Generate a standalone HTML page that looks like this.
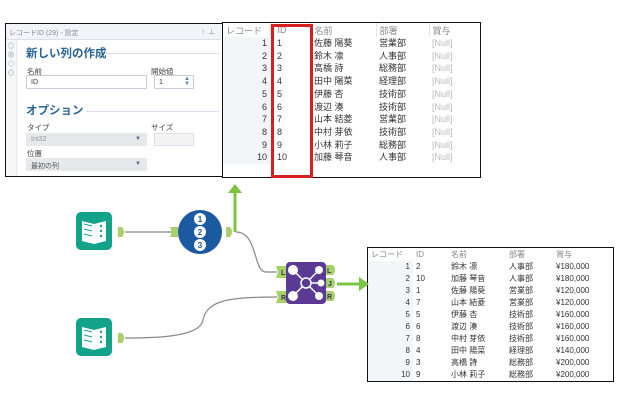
<!DOCTYPE html>
<html><head><meta charset="utf-8"><style>
*{margin:0;padding:0;box-sizing:border-box}
body{width:626px;height:401px;background:#fff;position:relative;overflow:hidden;font-family:"Liberation Sans","Noto Sans CJK JP",sans-serif;}
.abs{position:absolute}
table{border-collapse:collapse;font-size:9px;color:#333}
td{white-space:nowrap;padding:0 3px}
.t1 td:nth-child(2){padding-left:7px}
</style></head><body>

<!-- settings panel -->
<div class="abs" style="left:5px;top:23px;width:218px;height:154px;border:1.5px solid #111;background:#fff">
 <div class="abs" style="left:0;top:0;width:215px;height:16px;background:#f2f4f7;border-bottom:1px solid #dde;font-size:7px;color:#889;padding:4px 3px">レコードID (29) - 設定<span style="position:absolute;right:6px;top:3px">⁝ &nbsp;⊥</span></div>
 <div class="abs" style="left:0;top:16px;width:11px;height:136px;background:#f5f6f8;border-right:1px solid #e3e6ea;font-size:7px;color:#8aa;line-height:9px;text-align:center;padding-top:2px">◎<br>⊗<br>◇<br>⊙</div>
 <div class="abs" style="left:20px;top:21px;font-size:11.5px;color:#2a6496;font-weight:bold">新しい列の作成</div>
 <div class="abs" style="left:100px;top:29px;width:113px;height:1px;background:#dde"></div>
 <div class="abs" style="left:21px;top:42px;font-size:7.5px;color:#444">名前</div>
 <div class="abs" style="left:145px;top:42px;font-size:7.5px;color:#444">開始値</div>
 <div class="abs" style="left:20px;top:51px;width:121px;height:14px;border:1px solid #ccd;font-size:7px;padding:3px 4px;color:#333">ID</div>
 <div class="abs" style="left:148px;top:51px;width:40px;height:14px;border:1px solid #ccd;font-size:7px;padding:3px 4px;color:#333">1<span style="position:absolute;right:3px;top:1px;color:#4a8ac0;font-size:6px;line-height:5px">▲<br>▼</span></div>
 <div class="abs" style="left:20px;top:78px;font-size:11.5px;color:#2a6496;font-weight:bold">オプション</div>
 <div class="abs" style="left:80px;top:87px;width:133px;height:1px;background:#dde"></div>
 <div class="abs" style="left:21px;top:98px;font-size:7.5px;color:#444">タイプ</div>
 <div class="abs" style="left:145px;top:98px;font-size:7.5px;color:#444">サイズ</div>
 <div class="abs" style="left:20px;top:109px;width:121px;height:13px;background:#e6e8eb;font-size:7px;padding:3px 5px;color:#999">Int32<span style="position:absolute;right:6px;top:3px;color:#4a6b8a;font-size:6px">▼</span></div>
 <div class="abs" style="left:148px;top:109px;width:40px;height:13px;border:1px solid #dde;background:#f4f4f4"></div>
 <div class="abs" style="left:21px;top:124px;font-size:7.5px;color:#444">位置</div>
 <div class="abs" style="left:20px;top:134px;width:121px;height:13px;background:#e6e8eb;font-size:7px;padding:3px 5px;color:#555">最初の列<span style="position:absolute;right:6px;top:3px;color:#4a6b8a;font-size:6px">▼</span></div>
</div>

<!-- top table -->
<div class="abs" style="left:222px;top:22px;width:259px;height:156px;border:1.5px solid #111;background:#fff">
<table class="t1" style="width:256px;table-layout:fixed">
<colgroup><col style="width:47px"><col style="width:41px"><col style="width:65px"><col style="width:53px"><col></colgroup>
<tr style="height:14px;color:#888"><td style="border-right:1px solid #e3e3e3">レコード</td><td>ID</td><td style="border-left:1px solid #e3e3e3">名前</td><td style="border-left:1px solid #e3e3e3">部署</td><td style="border-left:1px solid #e3e3e3">賞与</td></tr>
<tbody style="line-height:12.7px">
<tr><td style="text-align:right;background:#f3f5f8">1</td><td>1</td><td>佐藤 陽葵</td><td>営業部</td><td style="color:#bbb">[Null]</td></tr>
<tr><td style="text-align:right;background:#f3f5f8">2</td><td>2</td><td>鈴木 凛</td><td>人事部</td><td style="color:#bbb">[Null]</td></tr>
<tr><td style="text-align:right;background:#f3f5f8">3</td><td>3</td><td>高橋 詩</td><td>総務部</td><td style="color:#bbb">[Null]</td></tr>
<tr><td style="text-align:right;background:#f3f5f8">4</td><td>4</td><td>田中 陽菜</td><td>経理部</td><td style="color:#bbb">[Null]</td></tr>
<tr><td style="text-align:right;background:#f3f5f8">5</td><td>5</td><td>伊藤 杏</td><td>技術部</td><td style="color:#bbb">[Null]</td></tr>
<tr><td style="text-align:right;background:#f3f5f8">6</td><td>6</td><td>渡辺 湊</td><td>技術部</td><td style="color:#bbb">[Null]</td></tr>
<tr><td style="text-align:right;background:#f3f5f8">7</td><td>7</td><td>山本 結菱</td><td>営業部</td><td style="color:#bbb">[Null]</td></tr>
<tr><td style="text-align:right;background:#f3f5f8">8</td><td>8</td><td>中村 芽依</td><td>技術部</td><td style="color:#bbb">[Null]</td></tr>
<tr><td style="text-align:right;background:#f3f5f8">9</td><td>9</td><td>小林 莉子</td><td>総務部</td><td style="color:#bbb">[Null]</td></tr>
<tr><td style="text-align:right;background:#f3f5f8">10</td><td>10</td><td>加藤 琴音</td><td>人事部</td><td style="color:#bbb">[Null]</td></tr>
</tbody></table>
<div class="abs" style="left:48px;top:1px;width:42px;height:154px;border:3px solid #d81e1e"></div>
</div>

<!-- bottom table -->
<div class="abs" style="left:367px;top:247px;width:247px;height:135px;border:1.5px solid #111;background:#fff">
<table style="width:244px;table-layout:fixed;font-size:8px">
<colgroup><col style="width:45px"><col style="width:35px"><col style="width:58px"><col style="width:47px"><col></colgroup>
<tr style="height:13px;color:#888"><td>レコード</td><td>ID</td><td>名前</td><td>部署</td><td>賞与</td></tr>
<tbody style="line-height:12px">
<tr><td style="text-align:right;background:#f3f5f8">1</td><td>2</td><td>鈴木 凛</td><td>人事部</td><td>¥180,000</td></tr>
<tr><td style="text-align:right;background:#f3f5f8">2</td><td>10</td><td>加藤 琴音</td><td>人事部</td><td>¥180,000</td></tr>
<tr><td style="text-align:right;background:#f3f5f8">3</td><td>1</td><td>佐藤 陽葵</td><td>営業部</td><td>¥120,000</td></tr>
<tr><td style="text-align:right;background:#f3f5f8">4</td><td>7</td><td>山本 結菱</td><td>営業部</td><td>¥120,000</td></tr>
<tr><td style="text-align:right;background:#f3f5f8">5</td><td>5</td><td>伊藤 杏</td><td>技術部</td><td>¥160,000</td></tr>
<tr><td style="text-align:right;background:#f3f5f8">6</td><td>6</td><td>渡辺 湊</td><td>技術部</td><td>¥160,000</td></tr>
<tr><td style="text-align:right;background:#f3f5f8">7</td><td>8</td><td>中村 芽依</td><td>技術部</td><td>¥160,000</td></tr>
<tr><td style="text-align:right;background:#f3f5f8">8</td><td>4</td><td>田中 陽菜</td><td>経理部</td><td>¥140,000</td></tr>
<tr><td style="text-align:right;background:#f3f5f8">9</td><td>3</td><td>高橋 詩</td><td>総務部</td><td>¥200,000</td></tr>
<tr><td style="text-align:right;background:#f3f5f8">10</td><td>9</td><td>小林 莉子</td><td>総務部</td><td>¥200,000</td></tr>
</tbody></table>
</div>

<svg class="abs" style="left:0;top:0" width="626" height="401" viewBox="0 0 626 401">
 <path d="M125 232 L172 232" stroke="#888" stroke-width="1.2" fill="none"/>
 <path d="M236 232 C258 232 253 272 266 272 L277 272" stroke="#888" stroke-width="1.2" fill="none"/>
 <path d="M125 338 C150 338 200 338 203 320 C207 300 230 297 277 297" stroke="#888" stroke-width="1.2" fill="none"/>
 <path d="M235 232 L235 192" stroke="#7cc243" stroke-width="3" fill="none"/>
 <polygon points="228,193 242,193 235,184" fill="#7cc243"/>
 <path d="M337 284 L360 284" stroke="#7cc243" stroke-width="3" fill="none"/>
 <polygon points="359,277 359,291 369,284" fill="#7cc243"/>
 <g>
  <rect x="76" y="212" width="36" height="38" rx="5" fill="#13a38d"/>
  <path d="M82 221 L94 224 L94 244 L82 241 Z M106 221 L94 224 L94 244 L106 241 Z" fill="#fff"/>
  <path d="M84 224 L92 226 M84 229 L92 231 M84 234 L92 236" stroke="#13a38d" stroke-width="1"/>
  <circle cx="101" cy="226" r="1.2" fill="#13a38d"/><circle cx="101" cy="231" r="1.2" fill="#13a38d"/><circle cx="101" cy="236" r="1.2" fill="#13a38d"/>
  <path d="M118 227 L122 227 Q126 232 122 237 L118 237 Z" fill="#a7d06a"/>
 </g>
 <g transform="translate(0,106)">
  <rect x="76" y="212" width="36" height="38" rx="5" fill="#13a38d"/>
  <path d="M82 221 L94 224 L94 244 L82 241 Z M106 221 L94 224 L94 244 L106 241 Z" fill="#fff"/>
  <path d="M84 224 L92 226 M84 229 L92 231 M84 234 L92 236" stroke="#13a38d" stroke-width="1"/>
  <circle cx="101" cy="226" r="1.2" fill="#13a38d"/><circle cx="101" cy="231" r="1.2" fill="#13a38d"/><circle cx="101" cy="236" r="1.2" fill="#13a38d"/>
  <path d="M118 227 L122 227 Q126 232 122 237 L118 237 Z" fill="#a7d06a"/>
 </g>
 <path d="M170 227 L178 227 L178 237 L170 237 L172 232 Z" fill="#a7d06a"/>
 <circle cx="200" cy="232" r="22" fill="#1b5aa0"/>
 <circle cx="200" cy="219" r="6" fill="#fff"/><circle cx="200" cy="232" r="6" fill="#fff"/><circle cx="200" cy="245" r="6" fill="#fff"/>
 <text x="200" y="222" font-size="8" font-weight="bold" fill="#1b5aa0" text-anchor="middle" font-family="Liberation Sans">1</text>
 <text x="200" y="235" font-size="8" font-weight="bold" fill="#1b5aa0" text-anchor="middle" font-family="Liberation Sans">2</text>
 <text x="200" y="248" font-size="8" font-weight="bold" fill="#1b5aa0" text-anchor="middle" font-family="Liberation Sans">3</text>
 <path d="M226 227 L230 227 Q234 232 230 237 L226 237 Z" fill="#a7d06a"/>
 <path d="M276 266 L288 266 L288 278 L276 278 L278 272 Z" fill="#a7d06a"/>
 <path d="M276 291 L288 291 L288 303 L276 303 L278 297 Z" fill="#a7d06a"/>
 <text x="281" y="275" font-size="7" font-weight="bold" fill="#335" font-family="Liberation Sans">L</text>
 <text x="281" y="300" font-size="7" font-weight="bold" fill="#335" font-family="Liberation Sans">R</text>
 <rect x="286" y="262" width="40" height="42" rx="4" fill="#5b3a96"/>
 <g stroke="#fff" stroke-width="1.5" fill="none">
  <line x1="292" y1="269" x2="320" y2="297"/><line x1="320" y1="269" x2="292" y2="297"/><line x1="306" y1="283" x2="321" y2="283"/>
 </g>
 <circle cx="306" cy="283" r="5" fill="#5b3a96" stroke="#fff" stroke-width="1.5"/>
 <circle cx="293" cy="270" r="5" fill="#fff"/><circle cx="319" cy="270" r="4" fill="#fff"/>
 <circle cx="293" cy="296" r="5" fill="#fff"/><circle cx="319" cy="296" r="4" fill="#fff"/><circle cx="321" cy="283" r="3.5" fill="#fff"/>
 <path d="M326 265 L333 265 Q337 270 333 275 L326 275 Z" fill="#a7d06a"/>
 <path d="M326 278 L333 278 Q337 283 333 288 L326 288 Z" fill="#a7d06a"/>
 <path d="M326 291 L333 291 Q337 296 333 301 L326 301 Z" fill="#a7d06a"/>
 <text x="327" y="273" font-size="7" font-weight="bold" fill="#335" font-family="Liberation Sans">L</text>
 <text x="328" y="286" font-size="7" font-weight="bold" fill="#335" font-family="Liberation Sans">J</text>
 <text x="327" y="299" font-size="7" font-weight="bold" fill="#335" font-family="Liberation Sans">R</text>
</svg>
</body></html>
